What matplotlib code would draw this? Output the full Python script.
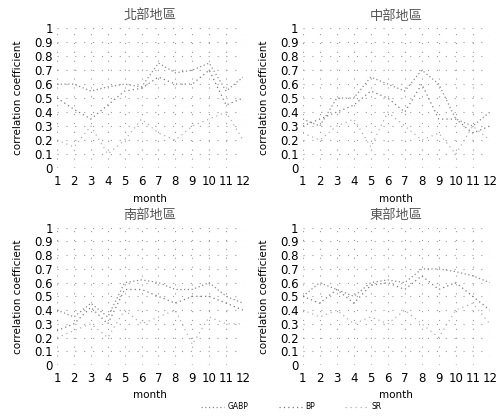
import matplotlib
matplotlib.use("Agg")
import matplotlib.pyplot as plt

plt.rcParams['font.family'] = ['DejaVu Sans', 'Noto Sans CJK TC']

MONTHS = list(range(1, 13))
REGIONS = ["北部地區", "中部地區", "南部地區", "東部地區"]
SERIES = ["GABP", "BP", "SR"]

NORTH_GABP = [0.60, 0.60, 0.55, 0.58, 0.60, 0.58, 0.75, 0.68, 0.70, 0.75, 0.55, 0.65]
NORTH_BP = [0.50, 0.42, 0.35, 0.45, 0.55, 0.57, 0.65, 0.60, 0.60, 0.70, 0.45, 0.50]
NORTH_SR = [0.20, 0.15, 0.30, 0.10, 0.20, 0.35, 0.25, 0.20, 0.30, 0.35, 0.40, 0.20]

CENTRAL_GABP = [0.35, 0.30, 0.50, 0.50, 0.65, 0.60, 0.55, 0.70, 0.60, 0.35, 0.30, 0.40]
CENTRAL_BP = [0.30, 0.35, 0.40, 0.45, 0.55, 0.50, 0.40, 0.60, 0.35, 0.35, 0.25, 0.30]
CENTRAL_SR = [0.25, 0.20, 0.30, 0.35, 0.15, 0.40, 0.30, 0.20, 0.25, 0.10, 0.30, 0.20]

SOUTH_GABP = [0.40, 0.35, 0.45, 0.35, 0.60, 0.62, 0.60, 0.55, 0.55, 0.60, 0.50, 0.45]
SOUTH_BP = [0.25, 0.30, 0.42, 0.30, 0.55, 0.55, 0.50, 0.45, 0.50, 0.50, 0.45, 0.40]
SOUTH_SR = [0.20, 0.25, 0.30, 0.20, 0.40, 0.30, 0.35, 0.40, 0.15, 0.35, 0.30, 0.30]

EAST_GABP = [0.50, 0.60, 0.55, 0.50, 0.60, 0.62, 0.60, 0.70, 0.70, 0.68, 0.65, 0.60]
EAST_BP = [0.50, 0.45, 0.55, 0.45, 0.58, 0.60, 0.55, 0.65, 0.55, 0.60, 0.50, 0.40]
EAST_SR = [0.40, 0.35, 0.40, 0.30, 0.35, 0.30, 0.40, 0.30, 0.20, 0.40, 0.45, 0.30]

DATA = [
    (NORTH_GABP, NORTH_BP, NORTH_SR),
    (CENTRAL_GABP, CENTRAL_BP, CENTRAL_SR),
    (SOUTH_GABP, SOUTH_BP, SOUTH_SR),
    (EAST_GABP, EAST_BP, EAST_SR),
]
YTICKS = [i / 10 for i in range(11)]
YLABELS = ["0"] + [f"{v:.1f}" for v in YTICKS[1:-1]] + ["1"]

STYLES = [
    dict(color="#8a8a8a", linestyle=(0, (1, 2)), linewidth=0.9),
    dict(color="#7a7a7a", linestyle=(0, (1, 2.5)), linewidth=0.9),
    dict(color="#b0b0b0", linestyle=(0, (1, 3)), linewidth=0.9),
]

POS = [
    (0.1145, 0.596, 0.3735, 0.3365),
    (0.608, 0.596, 0.3755, 0.3365),
    (0.1145, 0.1226, 0.3735, 0.330),
    (0.608, 0.1226, 0.3755, 0.330),
]

fig = plt.figure(figsize=(4.98, 4.16), dpi=100)
handles = []
for k, (region, series) in enumerate(zip(REGIONS, DATA)):
    ax = fig.add_axes(POS[k])
    for name, vals, st in zip(SERIES, series, STYLES):
        h, = ax.plot(MONTHS, vals, label=name, **st)
        if k == 0:
            handles.append(h)
    ax.set_xlim(1, 12)
    ax.set_ylim(0, 1)
    ax.set_xticks(MONTHS)
    ax.set_yticks(YTICKS)
    ax.set_yticklabels(YLABELS)
    ax.tick_params(axis="x", length=0, labelsize=8.5, pad=5)
    ax.tick_params(axis="y", length=0, labelsize=8.5, pad=3)
    ax.grid(True, color="#9a9a9a", linestyle=(0, (1, 7)), linewidth=0.8)
    for s in ax.spines.values():
        s.set_visible(False)
    ax.set_title(region, family=["Noto Sans CJK TC"], fontsize=9.5, pad=6, color="#555555")
    ax.set_xlabel("month", fontsize=7.5, labelpad=4)
    ax.set_ylabel("correlation coefficient", fontsize=7.5, labelpad=8)

fig.legend(handles, SERIES, loc="center", bbox_to_anchor=(0.585, 0.022),
           ncol=3, frameon=False, fontsize=5.5, handlelength=3,
           columnspacing=4.0, handletextpad=0.4)

fig.savefig("out.png", dpi=100)
